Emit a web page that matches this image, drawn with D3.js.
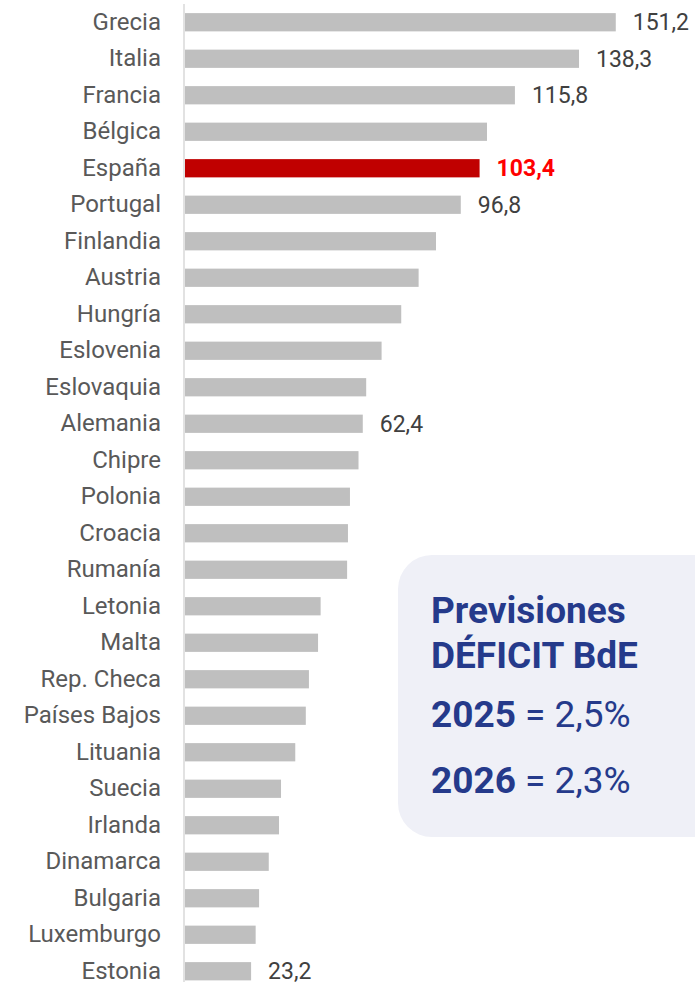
<!DOCTYPE html>
<html>
<head>
<meta charset="utf-8">
<script src="https://cdn.jsdelivr.net/npm/d3@7"></script>
<style>
  body { margin: 0; background: #fff; }
  text { font-family: Roboto, "Noto Sans", sans-serif; }
</style>
</head>
<body>
<script>
// Data (deuda pública, % PIB)
const countries = ["Grecia", "Italia", "Francia", "Bélgica", "España", "Portugal", "Finlandia",
  "Austria", "Hungría", "Eslovenia", "Eslovaquia", "Alemania", "Chipre", "Polonia", "Croacia",
  "Rumanía", "Letonia", "Malta", "Rep. Checa", "Países Bajos", "Lituania", "Suecia", "Irlanda",
  "Dinamarca", "Bulgaria", "Luxemburgo", "Estonia"];
const values = [151.2, 138.3, 115.8, 106.0, 103.4, 96.8, 88.1, 82.0, 75.9, 69.0, 63.6, 62.4,
  60.9, 57.9, 57.2, 56.9, 47.6, 46.7, 43.5, 42.4, 38.7, 33.7, 33.0, 29.4, 26.0, 24.8, 23.2];
// Only some bars carry a value label
const labelled = ["Grecia", "Italia", "Francia", "España", "Portugal", "Alemania", "Estonia"];
const highlight = "España";

// Text of the info box
const boxTitle = ["Previsiones", "DÉFICIT BdE"];
const boxYears = ["2025", "2026"];
const boxDeficit = ["2,5%", "2,3%"];

const data = countries.map((c, i) => ({ country: c, value: values[i] }));
const fmt = v => d3.format(".1f")(v).replace(".", ",");

const width = 695;
const height = 982;

const svg = d3.select("body").append("svg")
  .attr("width", width)
  .attr("height", height);

// Scales
const x = d3.scaleLinear()
  .domain([0, 160])
  .range([185, 185 + 160 * 2.849]);

const y = d3.scaleBand()
  .domain(countries)
  .range([4, 989.5])
  .paddingInner(0.5)
  .paddingOuter(0.25);

// Bars
svg.append("g")
  .selectAll("rect")
  .data(data)
  .enter().append("rect")
  .attr("x", x(0))
  .attr("y", d => y(d.country))
  .attr("width", d => x(d.value) - x(0))
  .attr("height", y.bandwidth())
  .attr("fill", d => d.country === highlight ? "#c00000" : "#bfbfbf");

// Vertical axis line + country labels
const yAxis = svg.append("g")
  .attr("transform", "translate(184,0)")
  .call(d3.axisLeft(y).tickSize(0).tickPadding(23));

yAxis.select(".domain")
  .attr("d", "M0,4V985")
  .attr("stroke", "#d9d9d9")
  .attr("stroke-width", 1.5);

yAxis.selectAll("text")
  .attr("fill", "#595959")
  .style("font-size", "24px")
  .style("font-family", "Roboto, sans-serif");

// Value labels
svg.append("g")
  .selectAll("text")
  .data(data.filter(d => labelled.includes(d.country)))
  .enter().append("text")
  .attr("x", d => x(d.value) + 17)
  .attr("y", d => y(d.country) + y.bandwidth() / 2)
  .attr("dy", "0.35em")
  .style("font-size", "23px")
  .style("font-weight", d => d.country === highlight ? "bold" : "normal")
  .attr("fill", d => d.country === highlight ? "#ff0000" : "#404040")
  .text(d => fmt(d.value));

// Info box
const box = svg.append("g");

box.append("rect")
  .attr("x", 398)
  .attr("y", 555)
  .attr("width", 330)
  .attr("height", 282)
  .attr("rx", 34)
  .attr("fill", "#eff0f7");

box.selectAll(".title")
  .data(boxTitle)
  .enter().append("text")
  .attr("class", "title")
  .attr("x", 431)
  .attr("y", (d, i) => 623 + i * 45)
  .attr("fill", "#253a8b")
  .style("font-size", "37px")
  .style("font-weight", "bold")
  .text(d => d);

const rows = box.selectAll(".row")
  .data(boxYears)
  .enter().append("text")
  .attr("class", "row")
  .attr("x", 431)
  .attr("y", (d, i) => 727 + i * 66)
  .attr("fill", "#253a8b")
  .style("font-size", "37px");

rows.append("tspan")
  .style("font-weight", "bold")
  .text(d => d);

rows.append("tspan")
  .text((d, i) => " = " + boxDeficit[i]);
</script>
</body>
</html>
